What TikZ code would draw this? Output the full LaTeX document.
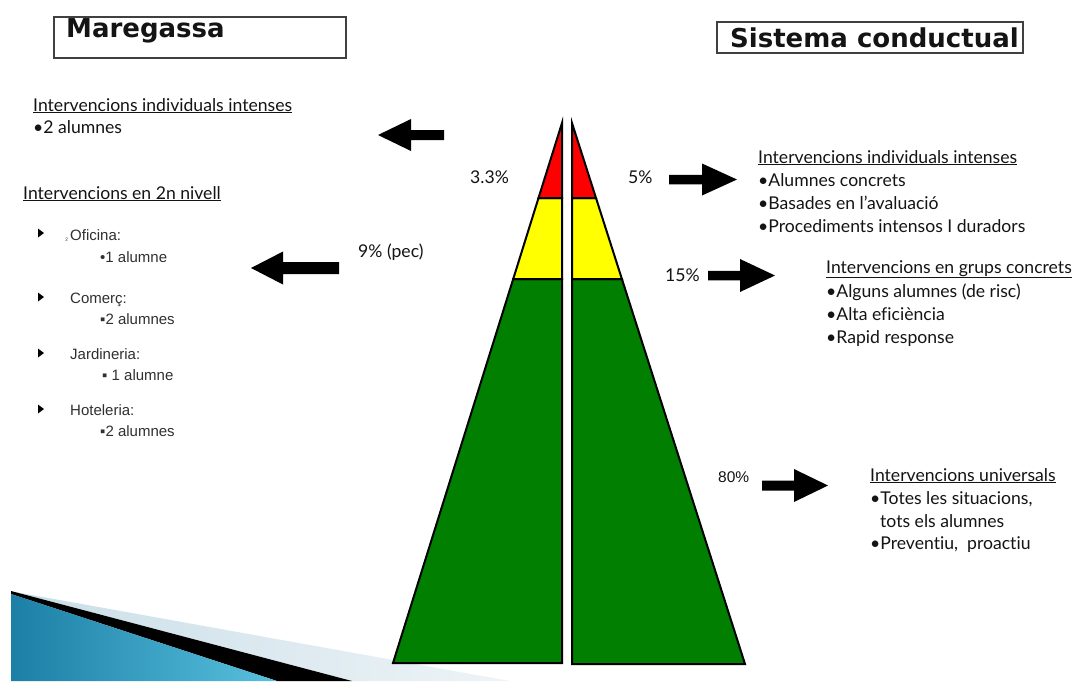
\documentclass[tikz,border=0pt]{standalone}
\usepackage{fontspec}
\setmainfont{Lato}[Ligatures=NoCommon]
\newfontfamily\arialf{Liberation Sans}
\newfontfamily\titlef{DejaVu Sans}
\definecolor{txt}{HTML}{141414}
\definecolor{lsttxt}{HTML}{303030}
\definecolor{pyrred}{HTML}{FF0000}
\definecolor{pyryel}{HTML}{FFFF00}
\definecolor{pyrgrn}{HTML}{007F00}
\definecolor{blueA}{HTML}{1C7FA6}
\definecolor{blueB}{HTML}{58C0DE}
\definecolor{lightA}{HTML}{C9DEE8}
\definecolor{lightB}{HTML}{EEF4F7}
\begin{document}
\begin{tikzpicture}[x=1pt,y=-1pt,
  body/.style={anchor=base west,inner sep=0pt,font=\fontsize{17.6}{20}\selectfont,text=txt},
  lst/.style={anchor=base west,inner sep=0pt,font=\arialf\fontsize{15}{18}\selectfont,text=lsttxt},
  ttl/.style={anchor=base west,inner sep=0pt,font=\titlef\bfseries\fontsize{26}{30}\selectfont,text=txt},
  tbox/.style={draw=black!75,line width=1.2pt},
  pyr/.style={draw=black,line width=2pt,line join=miter},
  blk/.style={fill=black},
  tri/.style={fill=black}]
\useasboundingbox (0,0) rectangle (1076,681);
\fill[white] (0,0) rectangle (1076,681);

% bottom-left swoosh
\shade[left color=lightA,right color=lightB] (15,592) -- (510,681) -- (352,681) -- cycle;
\fill[black] (11,591) -- (352,681) -- (277,681) -- (11,594) -- cycle;
\shade[left color=blueA,right color=blueB] (11,594) -- (277,681) -- (11,681) -- cycle;

% titles
\draw[tbox] (54,17) rectangle (346,58);
\node[ttl] (tmar) at (66,37.5) {Maregassa};
\draw[tbox] (717,22) rectangle (1023,53);
\node[ttl] (tsis) at (730,47) {Sistema conductual};

% pyramid, left half
\filldraw[pyr,fill=pyrgrn] (513.2,279) -- (562,279) -- (562,663) -- (393,663) -- cycle;
\filldraw[pyr,fill=pyryel] (538.5,198) -- (562,198) -- (562,279) -- (513.2,279) -- cycle;
\filldraw[pyr,fill=pyrred] (562,123) -- (562,198) -- (538.5,198) -- cycle;
% pyramid, right half
\filldraw[pyr,fill=pyrgrn] (572,279) -- (621.9,279) -- (745,664) -- (572,664) -- cycle;
\filldraw[pyr,fill=pyryel] (572,198) -- (596,198) -- (621.9,279) -- (572,279) -- cycle;
\filldraw[pyr,fill=pyrred] (572,123) -- (596,198) -- (572,198) -- cycle;

% block arrows
\fill[blk] (378,135) -- (411,119) -- (411,130) -- (444,130) -- (444,140) -- (411,140) -- (411,151) -- cycle;
\fill[blk] (251,268) -- (283,251.5) -- (283,262) -- (339,262) -- (339,274) -- (283,274) -- (283,284.5) -- cycle;
\fill[blk] (669,174.75) -- (702,174.75) -- (702,163.5) -- (737,179.5) -- (702,195.5) -- (702,184.25) -- (669,184.25) -- cycle;
\fill[blk] (708,270.75) -- (740,270.75) -- (740,259) -- (775,275.5) -- (740,292) -- (740,280.25) -- (708,280.25) -- cycle;
\fill[blk] (762,480.5) -- (794,480.5) -- (794,469) -- (828,485.5) -- (794,502) -- (794,490.5) -- (762,490.5) -- cycle;

% percentages
\node[body] (p33) at (470,183) {3.3\%};
\node[body] (p5) at (628,183) {5\%};
\node[body] (p9) at (358,257) {9\% (pec)};
\node[body] (p15) at (665,281) {15\%};
\node[lst,text=txt,font=\arialf\fontsize{15.5}{18}\selectfont] (p80) at (718,482) {80\%};

% left texts
\node[body] (l1h) at (33,111) {\underline{Intervencions individuals intenses}};
\node[body] (l1a) at (33,133) {•2 alumnes};
\node[body] (l2h) at (23,199) {\underline{Intervencions en 2n nivell}};

\foreach \yy in {233,297,353,409}{\fill[tri] (38,\yy-4.5) -- (44,\yy) -- (38,\yy+4.5) -- cycle;}
\node[lst,font=\arialf\fontsize{8}{9}\selectfont] (lsm) at (65,240) {₂};
\node[lst] (lofi) at (70,240) {Oficina:};
\node[lst] (lofa) at (100,262) {•1 alumne};
\node[lst] (lcom) at (70,303) {Comerç:};
\node[lst] (lcoa) at (100,324) {▪2 alumnes};
\node[lst] (ljar) at (70,359) {Jardineria:};
\node[lst] (ljaa) at (102,380) {▪ 1 alumne};
\node[lst] (lhot) at (70,415) {Hoteleria:};
\node[lst] (lhoa) at (100,436) {▪2 alumnes};

% right texts
\node[body] (r1h) at (758,163) {\underline{Intervencions individuals intenses}};
\node[body] (r1a) at (758,186) {•Alumnes concrets};
\node[body] (r1b) at (758,209) {•Basades en l’avaluació};
\node[body] (r1c) at (758,232) {•Procediments intensos I duradors};

\node[body] (r2h) at (826,273) {\underline{Intervencions en grups concrets}};
\node[body] (r2a) at (826,297) {•Alguns alumnes (de risc)};
\node[body] (r2b) at (826,320) {•Alta eficiència};
\node[body] (r2c) at (826,343) {•Rapid response};

\node[body] (r3h) at (870,481) {\underline{Intervencions universals}};
\node[body] (r3a) at (870,504) {•Totes les situacions,};
\node[body] (r3b) at (880,527) {tots els alumnes};
\node[body] (r3c) at (870,549) {•Preventiu,\ \ proactiu};
\end{tikzpicture}
\end{document}
